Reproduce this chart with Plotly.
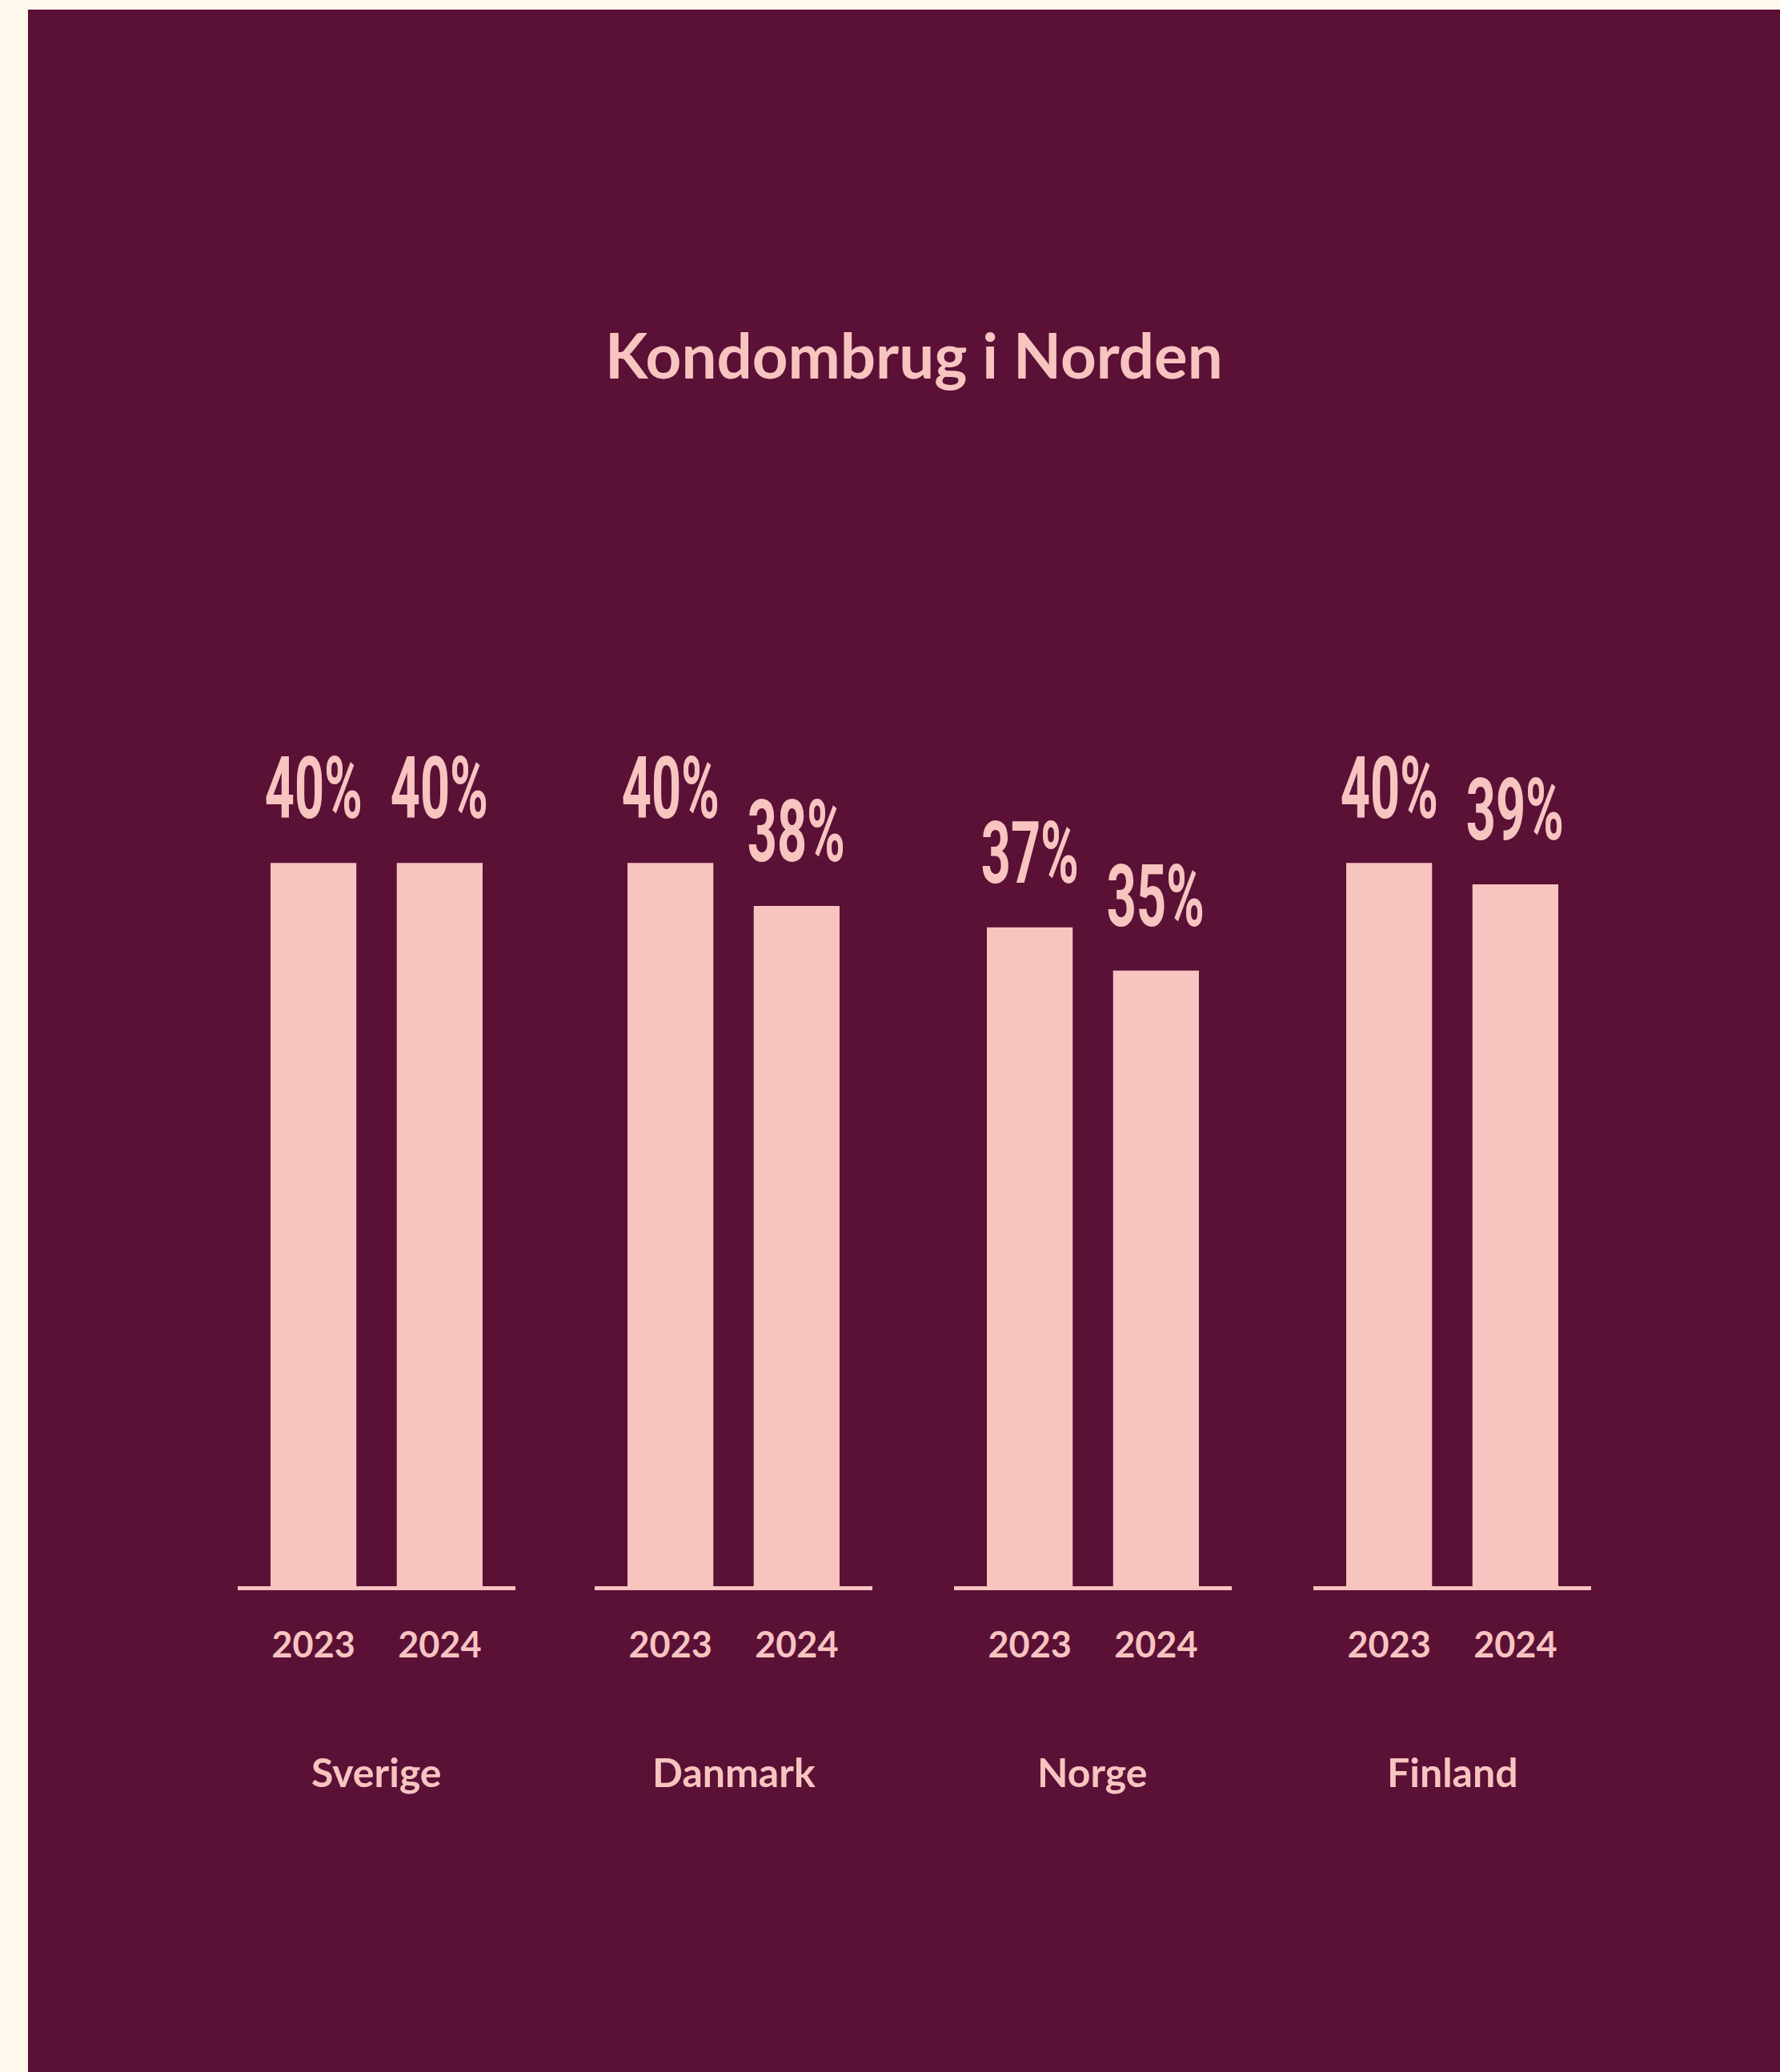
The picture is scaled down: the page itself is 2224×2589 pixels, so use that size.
import plotly.graph_objects as go

# ---- data ----
countries = ["Sverige", "Danmark", "Norge", "Finland"]
years = ["2023", "2024"]
values_2023 = [40, 40, 37, 40]
values_2024 = [40, 38, 35, 39]
title_text = "Kondombrug i Norden"
axis_floor = 6.4   # value at which the baseline sits (bars are not drawn from zero)

# ---- style ----
W, H = 2224, 2589
MAROON = "#5B1036"
PINK = "#F7C4C0"
CREAM = "#FFF8EC"
FONT = "Lato, 'Open Sans', sans-serif"
COND = "Roboto, 'Liberation Sans', sans-serif"

group_left = [297, 743, 1192, 1641]
group_w = 347
base_px = 1982
top_px = 700
px_per_pct = 26.9
ymax = axis_floor + (base_px - top_px) / px_per_pct

fig = go.Figure()
for i, c in enumerate(countries):
    xa = "x" if i == 0 else f"x{i+1}"
    ya = "y" if i == 0 else f"y{i+1}"
    vals = [values_2023[i], values_2024[i]]
    fig.add_trace(go.Bar(x=years, y=vals, xaxis=xa, yaxis=ya,
                         marker=dict(color=PINK, line=dict(width=0)),
                         showlegend=False, hoverinfo="skip"))
    d0 = group_left[i] / W
    d1 = (group_left[i] + group_w) / W
    axname = "xaxis" if i == 0 else f"xaxis{i+1}"
    yname = "yaxis" if i == 0 else f"yaxis{i+1}"
    fig.update_layout(**{
        axname: dict(domain=[d0, d1], anchor=ya, type="category",
                     range=[-0.6, 1.6], showline=True, linecolor=PINK,
                     linewidth=5, showgrid=False, zeroline=False, ticks="",
                     tickfont=dict(family=FONT, size=45, color=PINK, weight="bold"),
                     ticklabelstandoff=30, fixedrange=True),
        yname: dict(domain=[1 - base_px / H, 1 - top_px / H], anchor=xa,
                    range=[axis_floor, ymax], visible=False, fixedrange=True),
    })
    for j, v in enumerate(vals):
        fig.add_annotation(x=j, y=v, xref=xa, yref=ya, text=f"{v}%",
                           showarrow=False, yanchor="bottom", yshift=28,
                           font=dict(family=COND, size=108, color=PINK, weight="bold"))
    fig.add_annotation(x=(d0 + d1) / 2, y=1 - 2214 / H, xref="paper", yref="paper",
                       text=c, showarrow=False, xanchor="center", yanchor="middle",
                       font=dict(family=FONT, size=50, color=PINK, weight="bold"))

fig.add_annotation(x=1142 / W, y=1 - 443 / H, xref="paper", yref="paper",
                   text=title_text, showarrow=False, xanchor="center", yanchor="middle",
                   font=dict(family=FONT, size=78, color=PINK, weight="bold"))

fig.add_shape(type="rect", xref="paper", yref="paper", x0=35 / W, x1=1,
              y0=0, y1=1 - 12 / H, fillcolor=MAROON, line=dict(width=0), layer="below")

fig.update_layout(width=W, height=H, margin=dict(l=0, r=0, t=0, b=0),
                  paper_bgcolor=CREAM, plot_bgcolor="rgba(0,0,0,0)",
                  bargap=0.32, showlegend=False)

# narrow the percentage labels horizontally (condensed display type look)
post = """
document.body.style.margin='0';
var gd = document.getElementById('{plot_id}');
gd.querySelectorAll('text.annotation-text').forEach(function(t){
  if (t.textContent.indexOf('%') >= 0) {
    var b = t.getBBox();
    var cx = b.x + b.width / 2;
    var prev = t.getAttribute('transform') || '';
    t.setAttribute('transform', prev + ' translate(' + cx + ',0) scale(0.6,1) translate(' + (-cx) + ',0)');
  }
});
"""
fig.write_html("out.html", config={"displayModeBar": False}, post_script=post)
